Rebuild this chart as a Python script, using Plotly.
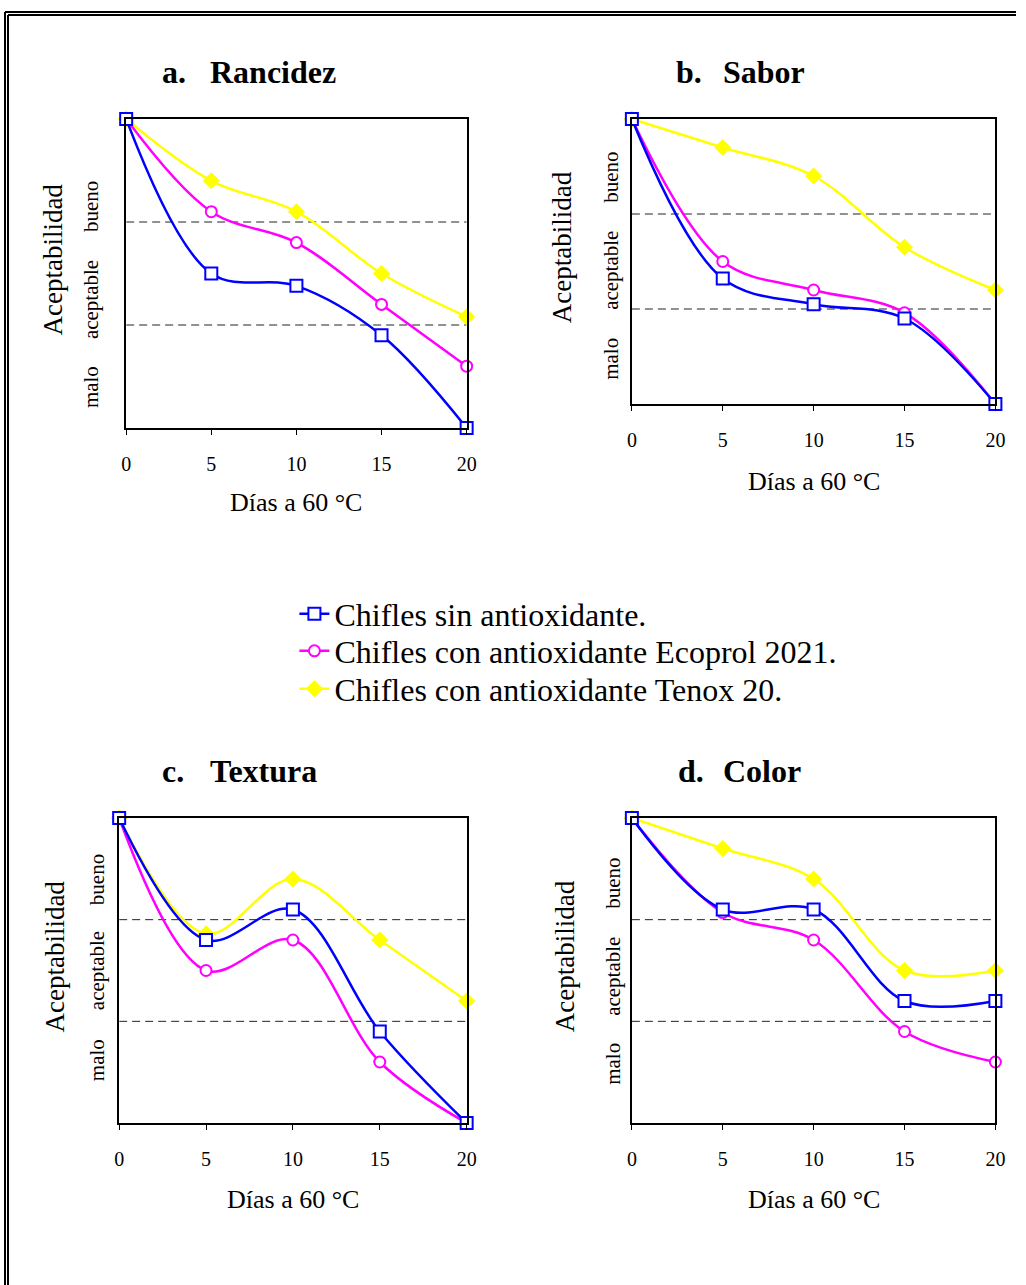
import plotly.graph_objects as go

W, H = 1026, 1285

# ---------------- data ----------------
days = [0, 5, 10, 15, 20]
x_ticks = [0, 5, 10, 15, 20]
series_names = [
    "Chifles sin antioxidante.",
    "Chifles con antioxidante Ecoprol 2021.",
    "Chifles con antioxidante Tenox 20.",
]
panel_letters = ["a.", "b.", "c.", "d."]
panel_titles = ["Rancidez", "Sabor", "Textura", "Color"]
category_labels = ["bueno", "aceptable", "malo"]
category_limits = [10 / 3, 20 / 3]   # limits malo/aceptable and aceptable/bueno

rancidez_sin = [10, 5.0, 4.6, 3.0, 0]
rancidez_ecoprol = [10, 7.0, 6.0, 4.0, 2.0]
rancidez_tenox = [10, 8.0, 7.0, 5.0, 3.6]

sabor_sin = [10, 4.4, 3.5, 3.0, 0]
sabor_ecoprol = [10, 5.0, 4.0, 3.2, 0]
sabor_tenox = [10, 9.0, 8.0, 5.5, 4.0]

textura_sin = [10, 6.0, 7.0, 3.0, 0]
textura_ecoprol = [10, 5.0, 6.0, 2.0, 0]
textura_tenox = [10, 6.2, 8.0, 6.0, 4.0]

color_sin = [10, 7.0, 7.0, 4.0, 4.0]
color_ecoprol = [10, 6.9, 6.0, 3.0, 2.0]
color_tenox = [10, 9.0, 8.0, 5.0, 5.0]

panel_data = [
    [rancidez_sin, rancidez_ecoprol, rancidez_tenox],
    [sabor_sin, sabor_ecoprol, sabor_tenox],
    [textura_sin, textura_ecoprol, textura_tenox],
    [color_sin, color_ecoprol, color_tenox],
]

# ---------------- layout helpers ----------------
def px(x):
    # horizontal pixel position -> paper fraction (with a small correction)
    return max(0.0, min(1.0, (x - 7.0) / 0.984 / W))

def py(y):
    return 1 - y / H

FONT = "Liberation Serif, Times New Roman, serif"

# plot frames in pixels: left, right, top, bottom
frames = [
    (128, 468, 119, 428),
    (633, 996, 119, 404),
    (121, 468, 818, 1123),
    (633, 996, 818, 1123),
]
# title positions (letter left, word left, y center)
title_pos = [(162, 210, 72), (675, 722, 72), (162, 210, 771), (677, 722, 771)]
# x of "Aceptabilidad", x of category labels, y of category labels (bueno, aceptable, malo)
side_pos = [
    (55, 93, (207, 300, 387)),
    (564, 612, (177, 270, 359)),
    (56, 99, (880, 971, 1060)),
    (566, 614, (883, 976, 1064)),
]
xtitle_y = [503, 481, 1199, 1199]
legend_rows = [614, 651, 689]

styles = [
    dict(color="#0000FF", symbol="square", size=12, fill="white"),
    dict(color="#FF00FF", symbol="circle", size=11, fill="white"),
    dict(color="#FFFF00", symbol="diamond", size=11, fill="#FFFF00"),
]
legend_ids = ["legend", "legend2", "legend3"]

fig = go.Figure()
annotations = []
shapes = []

for i in range(4):
    l, r, t, b = frames[i]
    xa = "xaxis" if i == 0 else f"xaxis{i+1}"
    ya = "yaxis" if i == 0 else f"yaxis{i+1}"
    xr = "x" if i == 0 else f"x{i+1}"
    yr = "y" if i == 0 else f"y{i+1}"

    # draw Tenox first, then Ecoprol, then sin antioxidante on top
    for k in [2, 1, 0]:
        st = styles[k]
        fig.add_trace(go.Scatter(
            x=days, y=panel_data[i][k], xaxis=xr, yaxis=yr,
            mode="lines+markers", name=series_names[k],
            legend=legend_ids[k], showlegend=(i == 0),
            line=dict(color=st["color"], width=2.5, shape="spline", smoothing=1),
            marker=dict(symbol=st["symbol"], size=st["size"], color=st["fill"],
                        line=dict(color=st["color"], width=2)),
            cliponaxis=False,
        ))

    fig.layout[xa] = dict(
        domain=[px(l), px(r)], range=[0, 20], anchor=yr,
        tickvals=x_ticks, ticks="outside", ticklen=5, tickwidth=1, tickcolor="black",
        showline=True, mirror=True, linecolor="black", linewidth=2,
        showgrid=False, zeroline=False, ticklabelstandoff=12,
        tickfont=dict(family=FONT, size=20, color="black"),
    )
    fig.layout[ya] = dict(
        domain=[py(b), py(t)], range=[0, 10], anchor=xr,
        showticklabels=False, ticks="",
        showline=True, mirror=True, linecolor="black", linewidth=2,
        showgrid=False, zeroline=False,
    )

    for lim in category_limits:
        shapes.append(dict(type="line", xref=xr, yref=yr, x0=0, x1=20, y0=lim, y1=lim,
                           line=dict(color="#222222", width=1, dash="8px,5px"), layer="below"))

    lx, wx, ty = title_pos[i]
    annotations.append(dict(text="<b>%s</b>" % panel_letters[i], xref="paper", yref="paper",
                            x=px(lx), y=py(ty), xanchor="left", yanchor="middle", showarrow=False,
                            font=dict(family=FONT, size=32, color="black")))
    annotations.append(dict(text="<b>%s</b>" % panel_titles[i], xref="paper", yref="paper",
                            x=px(wx), y=py(ty), xanchor="left", yanchor="middle", showarrow=False,
                            font=dict(family=FONT, size=32, color="black")))

    ax, cx, cys = side_pos[i]
    annotations.append(dict(text="Aceptabilidad", xref="paper", yref="paper",
                            x=px(ax), y=py((t + b) / 2 - 14), textangle=-90,
                            xanchor="center", yanchor="middle", showarrow=False,
                            font=dict(family=FONT, size=27, color="black")))
    for lab, cy in zip(category_labels, cys):
        annotations.append(dict(text=lab, xref="paper", yref="paper",
                                x=px(cx), y=py(cy), textangle=-90,
                                xanchor="center", yanchor="middle", showarrow=False,
                                font=dict(family=FONT, size=21, color="black")))

    annotations.append(dict(text="Días a 60 °C", xref="paper", yref="paper",
                            x=px((l + r) / 2), y=py(xtitle_y[i]),
                            xanchor="center", yanchor="middle", showarrow=False,
                            font=dict(family=FONT, size=26, color="black")))

# double page border (top and left visible)
for off, w in [(7, 2), (10, 2)]:
    shapes.append(dict(type="line", xref="paper", yref="paper",
                       x0=px(off), x1=1.0, y0=py(off + 5), y1=py(off + 5),
                       line=dict(color="black", width=w)))
    shapes.append(dict(type="line", xref="paper", yref="paper",
                       x0=px(off), x1=px(off), y0=py(off + 5), y1=0,
                       line=dict(color="black", width=w)))

legend_common = dict(xanchor="left", yanchor="middle", bgcolor="rgba(0,0,0,0)",
                     font=dict(family=FONT, size=32, color="black"))
fig.update_layout(
    width=W, height=H, autosize=False,
    margin=dict(l=0, r=0, t=0, b=0),
    paper_bgcolor="white", plot_bgcolor="white",
    showlegend=True,
    legend=dict(x=px(296), y=py(legend_rows[0]), **legend_common),
    legend2=dict(x=px(296), y=py(legend_rows[1]), **legend_common),
    legend3=dict(x=px(296), y=py(legend_rows[2]), **legend_common),
    annotations=annotations, shapes=shapes,
)

fig.write_html("out.html")
